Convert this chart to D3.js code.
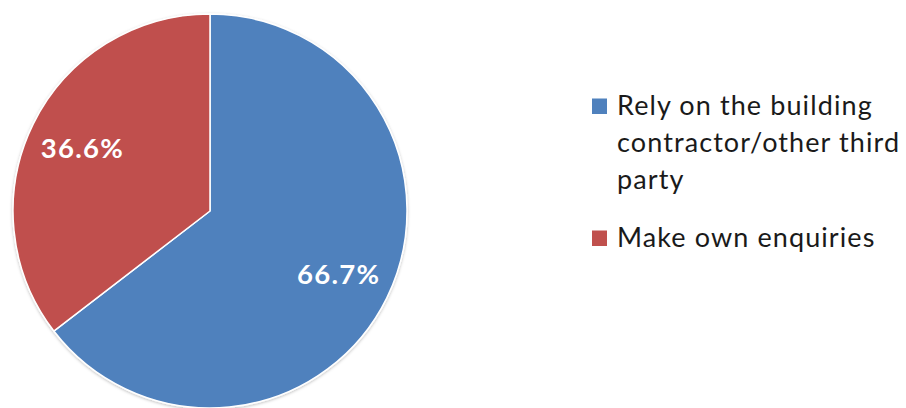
<!DOCTYPE html>
<html>
<head>
<meta charset="utf-8">
<script src="https://cdn.jsdelivr.net/npm/d3@7"></script>
<style>
  html, body { margin: 0; padding: 0; background: #fff; }
  svg { display: block; }
</style>
</head>
<body>
<svg id="chart" width="906" height="408"></svg>
<script>
// Survey responses: how buyers check the building work
const categories = ["Rely on the building contractor/other third party", "Make own enquiries"];
const legendLines = [["Rely on the building", "contractor/other third", "party"], ["Make own enquiries"]];
const values = [66.7, 36.6];
const colors = ["#4F81BD", "#C0504D"];

const svg = d3.select("#chart");
const cx = 210, cy = 211, R = 197;

const defs = svg.append("defs");
const f = defs.append("filter").attr("id", "soft").attr("x", "-10%").attr("y", "-10%").attr("width", "120%").attr("height", "120%");
f.append("feDropShadow").attr("dx", 0).attr("dy", 1).attr("stdDeviation", 1.5)
  .attr("flood-color", "#000").attr("flood-opacity", 0.25);

const pie = d3.pie().sort(null).value(d => d);
const arcs = pie(values);
const arc = d3.arc().innerRadius(0).outerRadius(R);
const labelArc = d3.arc().innerRadius(R * 0.725).outerRadius(R * 0.725);

const g = svg.append("g").attr("transform", `translate(${cx},${cy})`);
g.append("g").attr("filter", "url(#soft)")
  .selectAll("path").data(arcs).join("path")
  .attr("d", arc)
  .attr("fill", (d, i) => colors[i])
  .attr("stroke", "#fff")
  .attr("stroke-width", 1.5)
  .attr("stroke-linejoin", "round");

g.selectAll("text.val").data(arcs).join("text")
  .attr("class", "val")
  .attr("transform", d => `translate(${labelArc.centroid(d)})`)
  .attr("text-anchor", "middle")
  .attr("dy", "0.36em")
  .attr("dx", 0.6)
  .attr("fill", "#fff")
  .attr("font-family", "Lato, 'Open Sans', sans-serif")
  .attr("font-weight", "bold")
  .attr("font-size", 27.5)
  .attr("letter-spacing", 1.3)
  .text(d => d.data.toFixed(1) + "%");

// Legend
const legendX = 592, textX = 617, lineH = 37;
const firstBaseline = [114.5, 246.5];
const leg = svg.append("g");
categories.forEach((c, i) => {
  const b = firstBaseline[i];
  leg.append("rect")
    .attr("x", legendX).attr("y", b - 16)
    .attr("width", 15).attr("height", 15.5)
    .attr("fill", colors[i]);
  const t = leg.append("text")
    .attr("x", textX).attr("y", b)
    .attr("fill", "#1a1a1a")
    .attr("font-family", "Lato, 'Open Sans', sans-serif")
    .attr("font-size", 27)
    .attr("letter-spacing", 1.1);
  legendLines[i].forEach((ln, j) => {
    t.append("tspan").attr("x", textX).attr("y", b + j * lineH).text(ln);
  });
});
</script>
</body>
</html>
